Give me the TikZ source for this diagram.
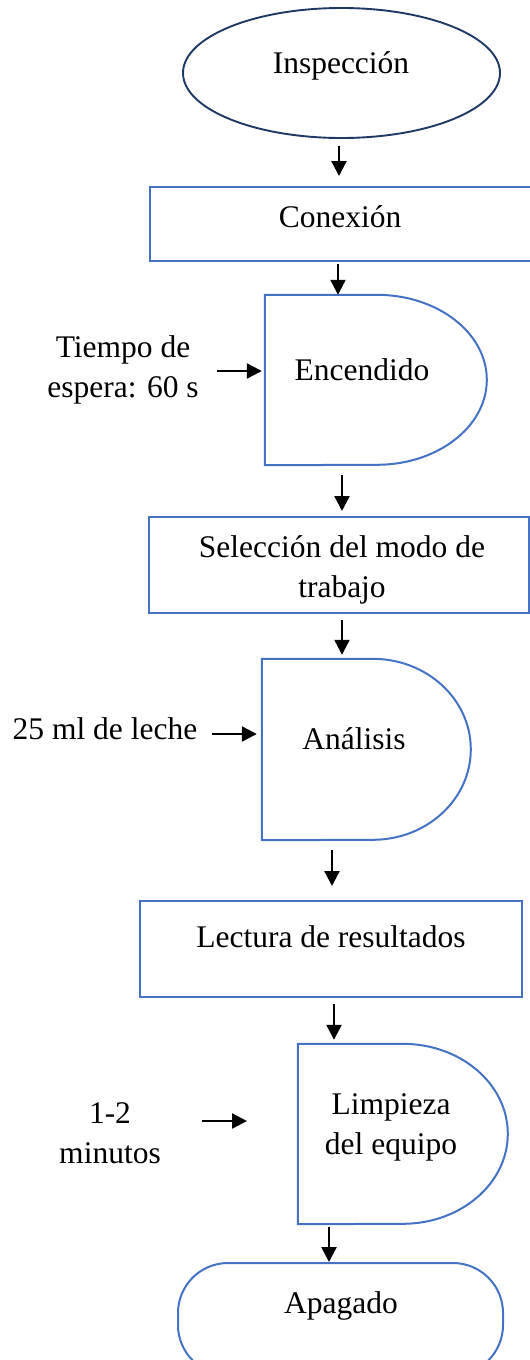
\documentclass[tikz,border=0pt]{standalone}
\usepackage{fontspec}
\setmainfont{Liberation Serif}
\usetikzlibrary{shapes.geometric,arrows.meta}
\definecolor{boxblue}{HTML}{4472C4}
\definecolor{navy}{HTML}{203864}
\begin{document}
\begin{tikzpicture}[x=1pt,y=-1pt,
  every node/.style={font=\fontsize{31.5}{40}\selectfont},
  txt/.style={anchor=base,align=center,inner sep=0pt},
  outline/.style={draw=boxblue,line width=2pt},
  frame/.style={inner sep=0pt},
  arr/.style={line width=2.3pt,-{Triangle[length=15pt,width=15pt]}}]
\useasboundingbox (0,0) rectangle (530,1360);
\clip (0,0) rectangle (530,1360);
% shapes
\node[ellipse,draw=navy,line width=1.9pt,minimum width=317pt,minimum height=130pt,inner sep=0pt] (ins) at (341.5,73) {};
\node[rectangle,outline,minimum width=382pt,minimum height=74pt,inner sep=0pt] (con) at (341,224) {};
\node[frame,minimum width=222pt,minimum height=170pt] (enc) at (376,380) {};
\draw[outline] (enc.north west) -- ++(112,0) arc[start angle=90,end angle=-90,x radius=110pt,y radius=85pt] -- (enc.south west) -- cycle;
\node[rectangle,outline,minimum width=380pt,minimum height=96pt,inner sep=0pt] (sel) at (339,565) {};
\node[frame,minimum width=209pt,minimum height=181pt] (ana) at (366.5,749.5) {};
\draw[outline] (ana.north west) -- ++(111,0) arc[start angle=90,end angle=-90,x radius=98pt,y radius=90.5pt] -- (ana.south west) -- cycle;
\node[rectangle,outline,minimum width=382pt,minimum height=96pt,inner sep=0pt] (lec) at (331,949) {};
\node[frame,minimum width=210pt,minimum height=180pt] (lim) at (403,1134) {};
\draw[outline] (lim.north west) -- ++(105,0) arc[start angle=90,end angle=-90,x radius=105pt,y radius=90pt] -- (lim.south west) -- cycle;
\node[rectangle,outline,rounded corners=50pt,minimum width=325pt,minimum height=112pt,inner sep=0pt] (apa) at (340.5,1319) {};
% texts (base anchor of a multi-line node = baseline of its last line)
\node[txt] (tins) at (341,73) {Inspección};
\node[txt] (tcon) at (340,227) {Conexión};
\node[txt] (tenc) at (362,380) {Encendido};
\node[txt] (ttie) at (123,397) {Tiempo de\\espera: 60 s};
\node[txt] (tsel) at (342,597) {Selección del modo de\\trabajo};
\node[txt] (tana) at (354,749) {Análisis};
\node[txt] (tlec) at (105,739) {25 ml de leche};
\node[txt] (tlect) at (331,947) {Lectura de resultados};
\node[txt] (tlim) at (391,1154) {Limpieza\\del equipo};
\node[txt] (tmin) at (110,1163) {1-2\\minutos};
\node[txt] (tapa) at (341,1313) {Apagado};
% side inputs
\coordinate (e1) at (217,371);
\coordinate (a1) at (212,734);
\coordinate (m1) at (202,1121);
\coordinate (m2) at (247,1121);
% connectors
\draw[arr,shorten <=7pt,shorten >=10pt] ([xshift=-2.5pt]ins.south) -- ([xshift=-2.5pt]ins.south |- con.north);
\draw[arr,shorten <=2pt] ([xshift=-3pt]con.south) -- ([xshift=-3pt]con.south |- enc.north);
\draw[arr,shorten >=3pt] (e1) -- (e1 -| enc.west);
\draw[arr,shorten <=10pt,shorten >=5pt] ([xshift=-34pt]enc.south) -- ([xshift=-34pt]enc.south |- sel.north);
\draw[arr,shorten <=6pt,shorten >=4pt] ([xshift=3pt]sel.south) -- ([xshift=3pt]sel.south |- ana.north);
\draw[arr,shorten >=5pt] (a1) -- (a1 -| ana.west);
\draw[arr,shorten <=10pt,shorten >=14pt] ([xshift=-34.5pt]ana.south) -- ([xshift=-34.5pt]ana.south |- lec.north);
\draw[arr,shorten <=6pt,shorten >=4pt] ([xshift=3pt]lec.south) -- ([xshift=3pt]lec.south |- lim.north);
\draw[arr] (m1) -- (m2);
\draw[arr,shorten <=3pt] ([xshift=-74pt]lim.south) -- ([xshift=-74pt]lim.south |- apa.north);
\end{tikzpicture}
\end{document}
